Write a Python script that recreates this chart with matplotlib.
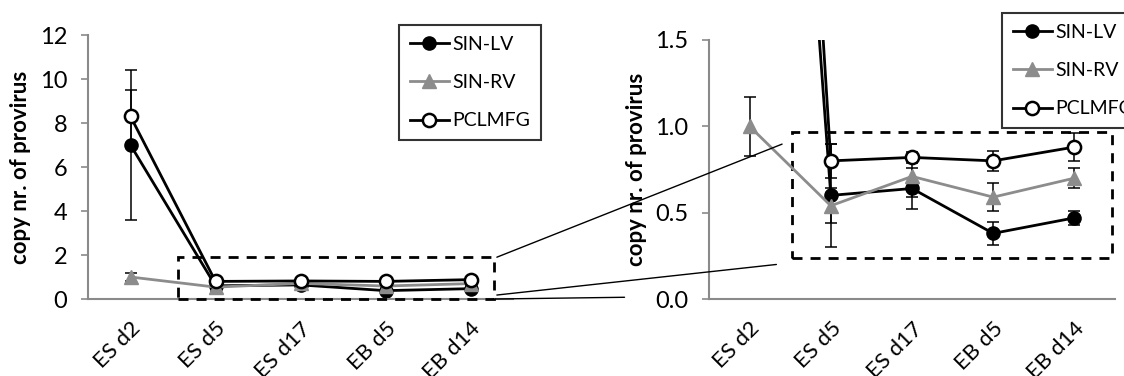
import matplotlib
matplotlib.use("Agg")
import matplotlib.pyplot as plt
from matplotlib.patches import Rectangle, ConnectionPatch
from matplotlib.ticker import FormatStrFormatter

plt.rcParams['font.family'] = ['Lato', 'DejaVu Sans']

stages = ["ES d2", "ES d5", "ES d17", "EB d5", "EB d14"]
sin_lv = [7.0, 0.60, 0.64, 0.38, 0.47]
sin_lv_err = [3.4, 0.30, 0.12, 0.065, 0.04]
sin_rv = [1.0, 0.54, 0.71, 0.59, 0.70]
sin_rv_err = [0.17, 0.10, 0.12, 0.08, 0.06]
pclmfg = [8.3, 0.80, 0.82, 0.80, 0.88]
pclmfg_err = [1.2, 0.10, 0.03, 0.06, 0.08]

GRAY = "#8c8c8c"
AXC = "#8a8a8a"

W, H = 1124, 376
fig = plt.figure(figsize=(W / 100, H / 100), dpi=100)
ax1 = fig.add_axes([88 / W, 1 - 299 / H, (513 - 88) / W, (299 - 35) / H])
ax2 = fig.add_axes([709 / W, 1 - 299 / H, (1115 - 709) / W, (299 - 40) / H])

x = list(range(len(stages)))


def draw(ax):
    series = [
        (sin_lv, sin_lv_err, dict(color="black", marker="o", mfc="black", mec="black", label="SIN-LV")),
        (sin_rv, sin_rv_err, dict(color=GRAY, marker="^", mfc=GRAY, mec=GRAY, label="SIN-RV")),
        (pclmfg, pclmfg_err, dict(color="black", marker="o", mfc="white", mec="black", mew=1.8, label="PCLMFG")),
    ]
    for vals, err, st in series:
        ax.errorbar(x, vals, yerr=err, fmt="none", ecolor="black", elinewidth=1.1, capsize=4, capthick=1.1)
        ax.plot(x, vals, lw=2.0, ms=9.5, **st)
    ax.set_xlim(-0.5, 4.5)
    ax.set_xticks(x)
    ax.set_xticklabels(stages, rotation=45, ha="right", va="top", rotation_mode="anchor", fontsize=16)
    ax.tick_params(axis="x", length=0, pad=14)
    ax.tick_params(axis="y", length=5, color=AXC, width=1.2, labelsize=17, pad=10)
    for s in ["top", "right"]:
        ax.spines[s].set_visible(False)
    for s in ["left", "bottom"]:
        ax.spines[s].set_color(AXC)
        ax.spines[s].set_linewidth(1.5)
    ax.set_ylabel("copy nr. of provirus", fontsize=16, fontweight="bold", labelpad=6)
    leg = ax.legend(loc="upper left", fontsize=14, frameon=True, fancybox=False, edgecolor="black",
                    handlelength=2.0, handletextpad=0.2, labelspacing=1.1, borderpad=0.55,
                    borderaxespad=0, bbox_transform=fig.transFigure)
    leg.get_frame().set_linewidth(1.5)
    return leg


leg1 = draw(ax1)
ax1.set_ylim(0, 12)
ax1.set_yticks(range(0, 13, 2))
leg1.set_bbox_to_anchor((399 / W, 1 - 25 / H), transform=fig.transFigure)

leg2 = draw(ax2)
ax2.set_ylim(0, 1.5)
ax2.set_yticks([0, 0.5, 1.0, 1.5])
ax2.yaxis.set_major_formatter(FormatStrFormatter("%.1f"))
leg2.set_bbox_to_anchor((1002 / W, 1 - 13 / H), transform=fig.transFigure)

dash = (0, (3.6, 2.9))
ax1.add_patch(Rectangle((0.56, 0), 4.28 - 0.56, 1.9, fill=False, lw=2, ls=dash, ec="black", clip_on=False, zorder=5))
ax2.add_patch(Rectangle((0.52, 0.235), 4.46 - 0.52, 0.97 - 0.235, fill=False, lw=2, ls=dash, ec="black",
                        clip_on=False, zorder=1))

for pa, pb in [((4.31, 1.9), (0.4, 0.897)), ((4.31, 0.18), (0.33, 0.2)), ((4.29, 0.0), (-1.54, 0.01))]:
    con = ConnectionPatch(xyA=pa, coordsA=ax1.transData, xyB=pb, coordsB=ax2.transData,
                          color="black", lw=1.0)
    fig.add_artist(con)

fig.savefig("out.png", dpi=100)
